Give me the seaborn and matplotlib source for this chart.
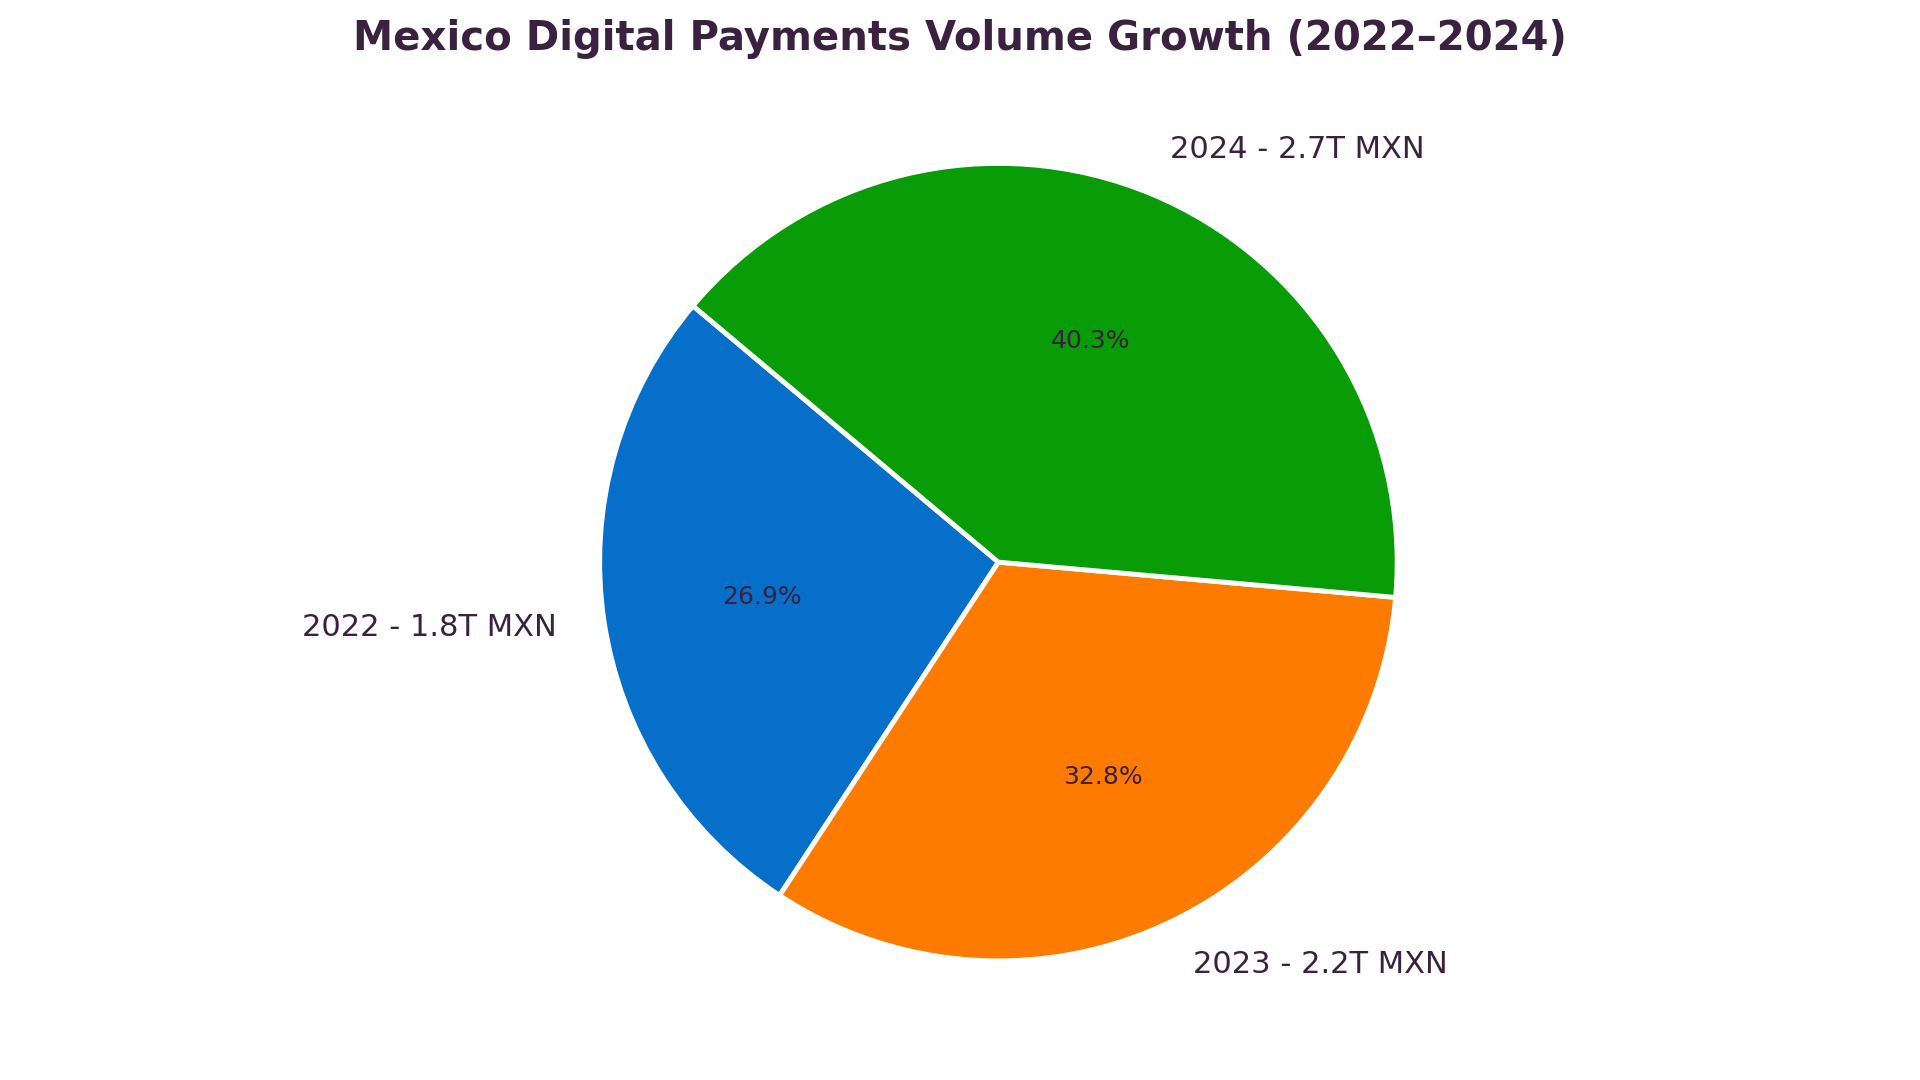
import matplotlib
matplotlib.use("Agg")
import matplotlib.pyplot as plt
import seaborn as sns

sns.set_theme(style="white")
plt.rcParams['font.family'] = ['DejaVu Sans']

years = ["2022", "2023", "2024"]
volumes = [1.8, 2.2, 2.7]
labels = [f"{y} - {v}T MXN" for y, v in zip(years, volumes)]
colors = ["#066FC9", "#FF7B00", "#089C07"]

fig = plt.figure(figsize=(19.2, 10.8), dpi=100)
ax = fig.add_axes([0.12, 0.018, 0.8, 0.923])
wedges, texts, autotexts = ax.pie(
    volumes, labels=labels, colors=colors, startangle=140,
    autopct="%1.1f%%", wedgeprops=dict(edgecolor="white", linewidth=3.5),
    textprops=dict(color="#3B2140", fontsize=22), labeldistance=1.12)
for t in autotexts:
    t.set_fontsize(18)
ax.set_aspect("equal")
fig.suptitle("Mexico Digital Payments Volume Growth (2022–2024)", fontsize=29,
             fontweight="bold", color="#3B2140", y=0.982)
fig.savefig("out.png", dpi=100, facecolor="white")
